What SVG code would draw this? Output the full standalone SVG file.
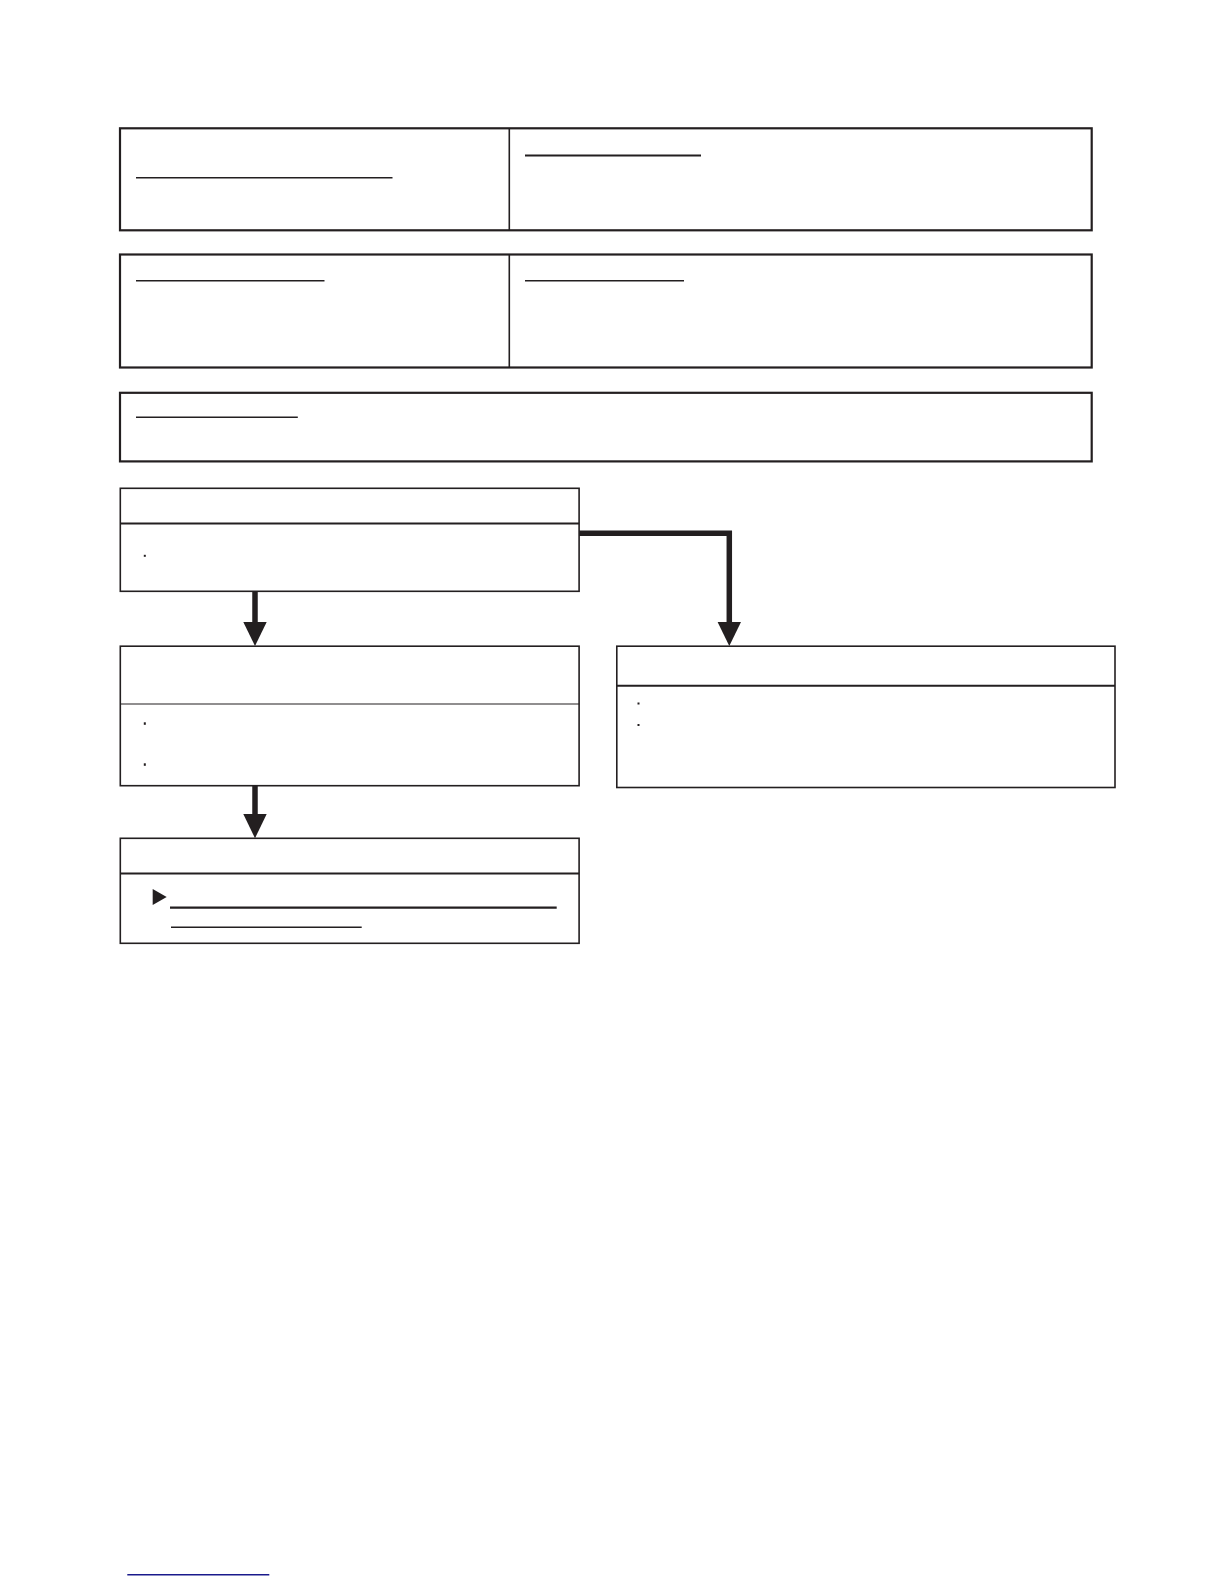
<svg xmlns="http://www.w3.org/2000/svg" width="1224" height="1584" viewBox="0 0 1224 1584">
<style>
.box{fill:#fff;stroke:#231f20;stroke-width:2.2}
.node{fill:#fff;stroke:#231f20;stroke-width:1.6}
.sep{stroke:#231f20;stroke-width:1.6}
.ul{stroke:#231f20;stroke-width:1.4}
.ulb{stroke:#231f20;stroke-width:2.2}
.dot{fill:#231f20}
.shaft{fill:none;stroke:#231f20;stroke-width:5.5}
.head{fill:#231f20}
</style>
<rect width="1224" height="1584" fill="#fff"/>
<g id="info1">
<rect class="box" x="120" y="128.3" width="971.7" height="102"/>
<line class="sep" x1="509.3" y1="128.3" x2="509.3" y2="230.3"/>
<line class="ul" x1="136" y1="177.8" x2="392.5" y2="177.8"/>
<line class="ulb" x1="525" y1="155.5" x2="701" y2="155.5"/>
</g>
<g id="info2">
<rect class="box" x="120" y="254.5" width="971.7" height="113"/>
<line class="sep" x1="509.3" y1="254.5" x2="509.3" y2="367.5"/>
<line class="ul" x1="136" y1="280.8" x2="324.5" y2="280.8"/>
<line class="ul" x1="525" y1="280.8" x2="684" y2="280.8"/>
</g>
<g id="info3">
<rect class="box" x="120" y="392.8" width="971.7" height="68.6"/>
<line class="ul" x1="136" y1="417.3" x2="297.8" y2="417.3"/>
</g>
<g id="nodeA">
<rect class="node" x="120.3" y="488.3" width="458.8" height="103"/>
<line class="sep" style="stroke-width:2.2" x1="120.3" y1="523.5" x2="579.1" y2="523.5"/>
<rect class="dot" x="143.8" y="554.8" width="2" height="2"/>
</g>
<g id="nodeB">
<rect class="node" x="120.3" y="646.2" width="458.8" height="139.5"/>
<line class="sep" style="stroke-width:1.2" x1="120.3" y1="704" x2="579.1" y2="704"/>
<rect class="dot" x="143.8" y="722.3" width="2" height="2.5"/>
<rect class="dot" x="143.8" y="763.3" width="2" height="2.5"/>
</g>
<g id="nodeC">
<rect class="node" x="120.3" y="838.3" width="458.8" height="105"/>
<line class="sep" style="stroke-width:2" x1="120.3" y1="873.5" x2="579.1" y2="873.5"/>
<polygon class="head" points="152.7,889 166.7,897 152.7,905"/>
<line class="ulb" x1="170" y1="907.7" x2="556.7" y2="907.7"/>
<line class="ul" x1="171" y1="927.3" x2="361.7" y2="927.3"/>
</g>
<g id="nodeD">
<rect class="node" x="616.8" y="646.2" width="498.2" height="141.3"/>
<line class="sep" style="stroke-width:2" x1="616.8" y1="685.7" x2="1115" y2="685.7"/>
<rect class="dot" x="637.5" y="702.5" width="2" height="2"/>
<rect class="dot" x="637.5" y="724" width="2" height="2"/>
</g>
<g id="connectors">
<line class="shaft" x1="255" y1="591.3" x2="255" y2="624"/>
<polygon class="head" points="243.3,622 266.7,622 255,646"/>
<line class="shaft" x1="255" y1="785.7" x2="255" y2="816"/>
<polygon class="head" points="243.3,814 266.7,814 255,838.3"/>
<path class="shaft" d="M579.1,533.3 H729.3 V624"/>
<polygon class="head" points="717.6,622 741,622 729.3,646"/>
</g>
<line id="footer" x1="127.3" y1="1574.8" x2="269.3" y2="1574.8" stroke="#1a1a8c" stroke-width="1.5"/>
</svg>
